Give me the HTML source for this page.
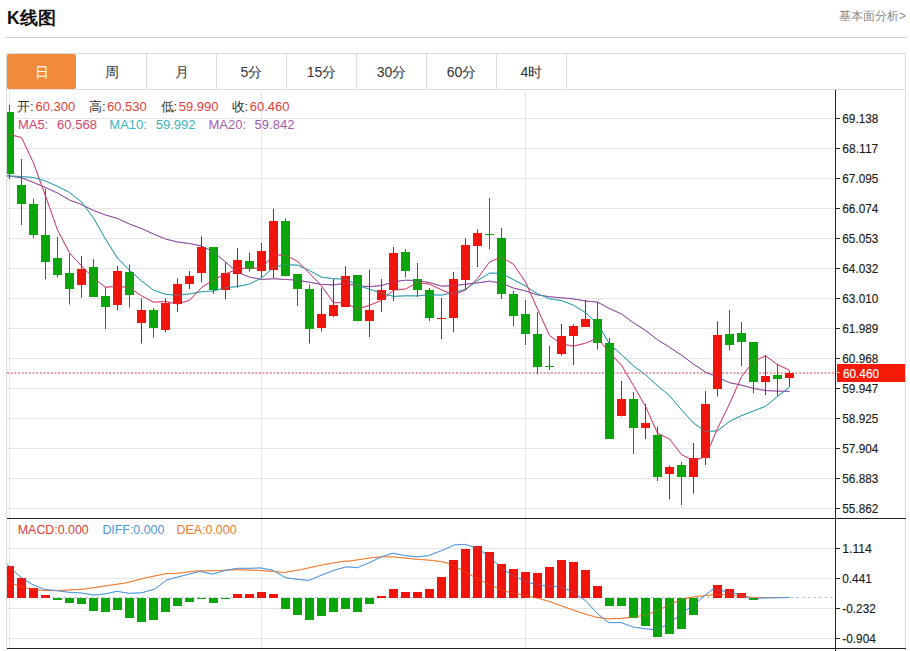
<!DOCTYPE html>
<html><head><meta charset="utf-8"><style>
*{margin:0;padding:0;box-sizing:border-box}
html,body{width:910px;height:651px;overflow:hidden;background:#fff;font-family:"Liberation Sans",sans-serif;color:#333}
.abs{position:absolute;white-space:nowrap}
#title{left:7px;top:5px;font-size:17.5px;font-weight:bold;color:#111;line-height:26px}
#fa{left:839px;top:8px;font-size:12px;color:#888;line-height:16px}
#hl{left:6px;top:37px;width:900px;height:1px;background:#ccc}
#box{left:6px;top:53px;width:900px;height:600px;border:1px solid #ddd;border-bottom:none}
#tabs{left:7px;top:54px;height:36px;width:898px;border-bottom:1px solid #ddd}
.tab{position:absolute;top:0;height:35px;width:70px;line-height:36px;text-align:center;font-size:14px;color:#333;border-right:1px solid #ddd}
.tab.on{background:#f28a3b;color:#fff;border-right:none;border-radius:2px;width:69px}
svg{position:absolute;left:0;top:0}
.ax{font-size:13px;fill:#1a1a1a;stroke:#1a1a1a;stroke-width:0.15px;font-family:"Liberation Sans",sans-serif}
.t{font-size:13px;position:absolute;white-space:nowrap;line-height:15px}
.k{color:#333} .v{color:#e0403a}
</style></head><body>
<div id="title" class="abs">K线图</div>
<div id="fa" class="abs">基本面分析&gt;</div>
<div id="hl" class="abs"></div>
<div id="box" class="abs"></div>
<div id="tabs" class="abs">
<div class="tab on" style="left:0">日</div>
<div class="tab" style="left:70px">周</div>
<div class="tab" style="left:140px">月</div>
<div class="tab" style="left:210px">5分</div>
<div class="tab" style="left:280px">15分</div>
<div class="tab" style="left:350px">30分</div>
<div class="tab" style="left:420px">60分</div>
<div class="tab" style="left:490px">4时</div>
</div>
<svg width="910" height="651" viewBox="0 0 910 651">
<defs><clipPath id="cp"><rect x="7" y="90" width="828" height="558"/></clipPath></defs>
<g clip-path="url(#cp)" shape-rendering="auto">
<line x1="7" y1="118.5" x2="835" y2="118.5" stroke="#e6e6e6"/>
<line x1="7" y1="148.5" x2="835" y2="148.5" stroke="#e6e6e6"/>
<line x1="7" y1="178.5" x2="835" y2="178.5" stroke="#e6e6e6"/>
<line x1="7" y1="208.5" x2="835" y2="208.5" stroke="#e6e6e6"/>
<line x1="7" y1="238.5" x2="835" y2="238.5" stroke="#e6e6e6"/>
<line x1="7" y1="268.5" x2="835" y2="268.5" stroke="#e6e6e6"/>
<line x1="7" y1="298.5" x2="835" y2="298.5" stroke="#e6e6e6"/>
<line x1="7" y1="328.5" x2="835" y2="328.5" stroke="#e6e6e6"/>
<line x1="7" y1="358.5" x2="835" y2="358.5" stroke="#e6e6e6"/>
<line x1="7" y1="388.5" x2="835" y2="388.5" stroke="#e6e6e6"/>
<line x1="7" y1="418.5" x2="835" y2="418.5" stroke="#e6e6e6"/>
<line x1="7" y1="448.5" x2="835" y2="448.5" stroke="#e6e6e6"/>
<line x1="7" y1="478.5" x2="835" y2="478.5" stroke="#e6e6e6"/>
<line x1="7" y1="508.5" x2="835" y2="508.5" stroke="#e6e6e6"/>
<line x1="7" y1="548.5" x2="835" y2="548.5" stroke="#e6e6e6"/>
<line x1="7" y1="578.5" x2="835" y2="578.5" stroke="#e6e6e6"/>
<line x1="7" y1="608.5" x2="835" y2="608.5" stroke="#e6e6e6"/>
<line x1="7" y1="638.5" x2="835" y2="638.5" stroke="#e6e6e6"/>
<line x1="9.5" y1="90" x2="9.5" y2="648" stroke="#e6e6e6"/>
<line x1="261.5" y1="90" x2="261.5" y2="648" stroke="#e6e6e6"/>
<line x1="525.5" y1="90" x2="525.5" y2="648" stroke="#e6e6e6"/>
<line x1="7" y1="373" x2="835" y2="373" stroke="#cc4050" stroke-dasharray="2,1.65"/>
<line x1="7" y1="597.5" x2="835" y2="597.5" stroke="#b4c8d6" stroke-dasharray="2.6,3"/>
<polyline points="-2.5,175.6 9.5,176 21.5,177.7 33.5,182.5 45.5,187.5 57.5,193 69.5,200 81.5,204.5 93.5,210.5 105.5,215 117.5,218.5 129.5,224 141.5,228.5 153.5,234 165.5,239 177.5,242 189.5,243.5 201.5,246 213.5,252 225.5,262 237.5,272.35 249.5,277.12 261.5,279.47 273.5,278.75 285.5,279.49 297.5,280.17 309.5,282.21 321.5,284.46 333.5,284.88 345.5,283.35 357.5,285.87 369.5,286.64 381.5,285.62 393.5,281.85 405.5,280.23 417.5,280.51 429.5,282.61 441.5,286.16 453.5,285.63 465.5,284.23 477.5,282.9 489.5,281.17 501.5,283.3 513.5,288.03 525.5,290.91 537.5,294.85 549.5,296.73 561.5,297.83 573.5,298.9 585.5,301.05 597.5,302.11 609.5,308.54 621.5,314.01 633.5,322.78 645.5,330.4 657.5,339.75 669.5,347.24 681.5,355.21 693.5,364.14 705.5,372.11 717.5,377.21 729.5,382.72 741.5,385.12 753.5,388.42 765.5,390.54 777.5,391.1 789.5,391.39" fill="none" stroke="#904c9e" stroke-width="1" stroke-linejoin="round"/>
<polyline points="-2.5,175.6 9.5,176 21.5,176.5 33.5,177.5 45.5,181 57.5,186.3 69.5,192.5 81.5,202 93.5,218 105.5,239 117.5,258.14 129.5,270.24 141.5,280.88 153.5,290.18 165.5,294.32 177.5,295.22 189.5,293.92 201.5,291.72 213.5,291.06 225.5,287.7 237.5,286.56 249.5,284 261.5,278.06 273.5,267.32 285.5,264.66 297.5,265.12 309.5,270.5 321.5,277.2 333.5,278.7 345.5,279 357.5,285.18 369.5,289.28 381.5,293.18 393.5,296.38 405.5,295.8 417.5,295.9 429.5,294.72 441.5,295.12 453.5,292.56 465.5,289.46 477.5,280.62 489.5,273.06 501.5,273.42 513.5,279.68 525.5,286.02 537.5,293.8 549.5,298.74 561.5,300.54 573.5,305.24 585.5,312.64 597.5,323.6 609.5,344.02 621.5,354.6 633.5,365.88 645.5,374.78 657.5,385.7 669.5,395.74 681.5,409.88 693.5,423.04 705.5,431.58 717.5,430.82 729.5,421.42 741.5,415.64 753.5,410.96 765.5,406.3 777.5,396.5 789.5,387.05" fill="none" stroke="#2f9fb0" stroke-width="1" stroke-linejoin="round"/>
<polyline points="-2.5,134.3 9.5,134.5 21.5,137.5 33.5,163 45.5,196 57.5,229.92 69.5,252.92 81.5,265.92 93.5,278.16 105.5,287.16 117.5,286.36 129.5,287.56 141.5,295.84 153.5,302.2 165.5,301.48 177.5,304.08 189.5,300.28 201.5,287.6 213.5,279.92 225.5,273.92 237.5,269.04 249.5,267.72 261.5,268.52 273.5,254.72 285.5,255.4 297.5,261.2 309.5,273.28 321.5,285.88 333.5,302.68 345.5,302.6 357.5,309.16 369.5,305.28 381.5,300.48 393.5,290.08 405.5,289 417.5,282.64 429.5,284.16 441.5,289.76 453.5,295.04 465.5,289.92 477.5,278.6 489.5,261.96 501.5,257.08 513.5,264.32 525.5,282.12 537.5,309 549.5,335.52 561.5,344 573.5,346.16 585.5,343.16 597.5,338.2 609.5,352.52 621.5,365.2 633.5,385.6 645.5,406.4 657.5,433.2 669.5,438.96 681.5,454.56 693.5,460.48 705.5,456.76 717.5,428.44 729.5,403.88 741.5,376.72 753.5,361.44 765.5,355.84 777.5,364.56 789.5,370.22" fill="none" stroke="#d4446f" stroke-width="1" stroke-linejoin="round"/>
<line x1="9.5" y1="105" x2="9.5" y2="179" stroke="#0a8a0a"/>
<rect x="5.0" y="112" width="9" height="62" fill="#0aa50a"/>
<line x1="21.5" y1="159" x2="21.5" y2="225" stroke="#0a8a0a"/>
<rect x="17.0" y="185" width="9" height="19" fill="#0aa50a"/>
<line x1="33.5" y1="198.6" x2="33.5" y2="238" stroke="#0a8a0a"/>
<rect x="29.0" y="204" width="9" height="31" fill="#0aa50a"/>
<line x1="45.5" y1="188.6" x2="45.5" y2="279.4" stroke="#0a8a0a"/>
<rect x="41.0" y="235" width="9" height="27" fill="#0aa50a"/>
<line x1="57.5" y1="236.6" x2="57.5" y2="277.6" stroke="#0a8a0a"/>
<rect x="53.0" y="258" width="9" height="17" fill="#0aa50a"/>
<line x1="69.5" y1="253.6" x2="69.5" y2="304.6" stroke="#0a8a0a"/>
<rect x="65.0" y="273" width="9" height="16" fill="#0aa50a"/>
<line x1="81.5" y1="256" x2="81.5" y2="297.6" stroke="#c81010"/>
<rect x="77.0" y="269" width="9" height="16" fill="#f0140c"/>
<line x1="93.5" y1="259" x2="93.5" y2="297" stroke="#0a8a0a"/>
<rect x="89.0" y="267" width="9" height="30" fill="#0aa50a"/>
<line x1="105.5" y1="287" x2="105.5" y2="329" stroke="#0a8a0a"/>
<rect x="101.0" y="296" width="9" height="11" fill="#0aa50a"/>
<line x1="117.5" y1="266" x2="117.5" y2="310.4" stroke="#c81010"/>
<rect x="113.0" y="271" width="9" height="34" fill="#f0140c"/>
<line x1="129.5" y1="264.4" x2="129.5" y2="307.6" stroke="#0a8a0a"/>
<rect x="125.0" y="272" width="9" height="23" fill="#0aa50a"/>
<line x1="141.5" y1="298.4" x2="141.5" y2="343.6" stroke="#c81010"/>
<rect x="137.0" y="310" width="9" height="13" fill="#f0140c"/>
<line x1="153.5" y1="308" x2="153.5" y2="337.6" stroke="#0a8a0a"/>
<rect x="149.0" y="310" width="9" height="18" fill="#0aa50a"/>
<line x1="165.5" y1="298.4" x2="165.5" y2="332.4" stroke="#c81010"/>
<rect x="161.0" y="303" width="9" height="27" fill="#f0140c"/>
<line x1="177.5" y1="278.4" x2="177.5" y2="312" stroke="#c81010"/>
<rect x="173.0" y="284" width="9" height="20" fill="#f0140c"/>
<line x1="189.5" y1="271" x2="189.5" y2="289" stroke="#c81010"/>
<rect x="185.0" y="276" width="9" height="8" fill="#f0140c"/>
<line x1="201.5" y1="236.4" x2="201.5" y2="282.4" stroke="#c81010"/>
<rect x="197.0" y="247" width="9" height="26" fill="#f0140c"/>
<line x1="213.5" y1="247" x2="213.5" y2="294" stroke="#0a8a0a"/>
<rect x="209.0" y="247" width="9" height="43" fill="#0aa50a"/>
<line x1="225.5" y1="262.4" x2="225.5" y2="299.4" stroke="#c81010"/>
<rect x="221.0" y="273" width="9" height="17" fill="#f0140c"/>
<line x1="237.5" y1="248" x2="237.5" y2="287.6" stroke="#c81010"/>
<rect x="233.0" y="260" width="9" height="14" fill="#f0140c"/>
<line x1="249.5" y1="252.6" x2="249.5" y2="271.6" stroke="#0a8a0a"/>
<rect x="245.0" y="261" width="9" height="8" fill="#0aa50a"/>
<line x1="261.5" y1="243" x2="261.5" y2="277.6" stroke="#c81010"/>
<rect x="257.0" y="251" width="9" height="20" fill="#f0140c"/>
<line x1="273.5" y1="209" x2="273.5" y2="278" stroke="#c81010"/>
<rect x="269.0" y="221" width="9" height="49" fill="#f0140c"/>
<line x1="285.5" y1="218.4" x2="285.5" y2="276.4" stroke="#0a8a0a"/>
<rect x="281.0" y="221" width="9" height="55" fill="#0aa50a"/>
<line x1="297.5" y1="274.4" x2="297.5" y2="306" stroke="#0a8a0a"/>
<rect x="293.0" y="274" width="9" height="15" fill="#0aa50a"/>
<line x1="309.5" y1="284.4" x2="309.5" y2="343.6" stroke="#0a8a0a"/>
<rect x="305.0" y="289" width="9" height="40" fill="#0aa50a"/>
<line x1="321.5" y1="288" x2="321.5" y2="331.6" stroke="#c81010"/>
<rect x="317.0" y="314" width="9" height="14" fill="#f0140c"/>
<line x1="333.5" y1="279" x2="333.5" y2="317" stroke="#c81010"/>
<rect x="329.0" y="305" width="9" height="11" fill="#f0140c"/>
<line x1="345.5" y1="266.4" x2="345.5" y2="306.6" stroke="#c81010"/>
<rect x="341.0" y="276" width="9" height="31" fill="#f0140c"/>
<line x1="357.5" y1="275" x2="357.5" y2="321.4" stroke="#0a8a0a"/>
<rect x="353.0" y="275" width="9" height="46" fill="#0aa50a"/>
<line x1="369.5" y1="269.6" x2="369.5" y2="337" stroke="#c81010"/>
<rect x="365.0" y="310" width="9" height="11" fill="#f0140c"/>
<line x1="381.5" y1="279" x2="381.5" y2="312" stroke="#c81010"/>
<rect x="377.0" y="290" width="9" height="10" fill="#f0140c"/>
<line x1="393.5" y1="247" x2="393.5" y2="301" stroke="#c81010"/>
<rect x="389.0" y="253" width="9" height="37" fill="#f0140c"/>
<line x1="405.5" y1="249" x2="405.5" y2="277.6" stroke="#0a8a0a"/>
<rect x="401.0" y="252" width="9" height="19" fill="#0aa50a"/>
<line x1="417.5" y1="263" x2="417.5" y2="297" stroke="#0a8a0a"/>
<rect x="413.0" y="279" width="9" height="11" fill="#0aa50a"/>
<line x1="429.5" y1="288" x2="429.5" y2="321" stroke="#0a8a0a"/>
<rect x="425.0" y="290" width="9" height="28" fill="#0aa50a"/>
<line x1="441.5" y1="298" x2="441.5" y2="339" stroke="#c81010"/>
<rect x="437.0" y="318" width="9" height="1" fill="#f0140c"/>
<line x1="453.5" y1="272" x2="453.5" y2="332" stroke="#c81010"/>
<rect x="449.0" y="279" width="9" height="39" fill="#f0140c"/>
<line x1="465.5" y1="238.4" x2="465.5" y2="290" stroke="#c81010"/>
<rect x="461.0" y="245" width="9" height="35" fill="#f0140c"/>
<line x1="477.5" y1="229.4" x2="477.5" y2="267" stroke="#c81010"/>
<rect x="473.0" y="233" width="9" height="13" fill="#f0140c"/>
<line x1="489.5" y1="198" x2="489.5" y2="249.4" stroke="#0a8a0a"/>
<rect x="485.0" y="234" width="9" height="1" fill="#0aa50a"/>
<line x1="501.5" y1="228" x2="501.5" y2="299" stroke="#0a8a0a"/>
<rect x="497.0" y="238" width="9" height="56" fill="#0aa50a"/>
<line x1="513.5" y1="291" x2="513.5" y2="326.4" stroke="#0a8a0a"/>
<rect x="509.0" y="294" width="9" height="22" fill="#0aa50a"/>
<line x1="525.5" y1="300" x2="525.5" y2="345" stroke="#0a8a0a"/>
<rect x="521.0" y="314" width="9" height="20" fill="#0aa50a"/>
<line x1="537.5" y1="312" x2="537.5" y2="374.4" stroke="#0a8a0a"/>
<rect x="533.0" y="334" width="9" height="33" fill="#0aa50a"/>
<line x1="549.5" y1="345.6" x2="549.5" y2="370" stroke="#0a8a0a"/>
<rect x="545.0" y="366" width="9" height="1" fill="#0aa50a"/>
<line x1="561.5" y1="324" x2="561.5" y2="355.6" stroke="#c81010"/>
<rect x="557.0" y="336" width="9" height="18" fill="#f0140c"/>
<line x1="573.5" y1="324.4" x2="573.5" y2="365" stroke="#c81010"/>
<rect x="569.0" y="326" width="9" height="10" fill="#f0140c"/>
<line x1="585.5" y1="300" x2="585.5" y2="327" stroke="#c81010"/>
<rect x="581.0" y="319" width="9" height="8" fill="#f0140c"/>
<line x1="597.5" y1="302" x2="597.5" y2="349.6" stroke="#0a8a0a"/>
<rect x="593.0" y="319" width="9" height="24" fill="#0aa50a"/>
<line x1="609.5" y1="338" x2="609.5" y2="438.6" stroke="#0a8a0a"/>
<rect x="605.0" y="343" width="9" height="96" fill="#0aa50a"/>
<line x1="621.5" y1="381" x2="621.5" y2="416.4" stroke="#c81010"/>
<rect x="617.0" y="399" width="9" height="17" fill="#f0140c"/>
<line x1="633.5" y1="392" x2="633.5" y2="454" stroke="#0a8a0a"/>
<rect x="629.0" y="399" width="9" height="29" fill="#0aa50a"/>
<line x1="645.5" y1="404" x2="645.5" y2="439" stroke="#c81010"/>
<rect x="641.0" y="423" width="9" height="5" fill="#f0140c"/>
<line x1="657.5" y1="426.4" x2="657.5" y2="481" stroke="#0a8a0a"/>
<rect x="653.0" y="435" width="9" height="42" fill="#0aa50a"/>
<line x1="669.5" y1="465.6" x2="669.5" y2="499.4" stroke="#c81010"/>
<rect x="665.0" y="467" width="9" height="7" fill="#f0140c"/>
<line x1="681.5" y1="462" x2="681.5" y2="505" stroke="#0a8a0a"/>
<rect x="677.0" y="465" width="9" height="12" fill="#0aa50a"/>
<line x1="693.5" y1="443" x2="693.5" y2="493.6" stroke="#c81010"/>
<rect x="689.0" y="458" width="9" height="19" fill="#f0140c"/>
<line x1="705.5" y1="391" x2="705.5" y2="465" stroke="#c81010"/>
<rect x="701.0" y="404" width="9" height="54" fill="#f0140c"/>
<line x1="717.5" y1="321.4" x2="717.5" y2="396.4" stroke="#c81010"/>
<rect x="713.0" y="335" width="9" height="54" fill="#f0140c"/>
<line x1="729.5" y1="310" x2="729.5" y2="350.4" stroke="#0a8a0a"/>
<rect x="725.0" y="334" width="9" height="11" fill="#0aa50a"/>
<line x1="741.5" y1="322" x2="741.5" y2="366.4" stroke="#0a8a0a"/>
<rect x="737.0" y="333" width="9" height="9" fill="#0aa50a"/>
<line x1="753.5" y1="342.4" x2="753.5" y2="393.4" stroke="#0a8a0a"/>
<rect x="749.0" y="342" width="9" height="40" fill="#0aa50a"/>
<line x1="765.5" y1="355" x2="765.5" y2="395" stroke="#c81010"/>
<rect x="761.0" y="376" width="9" height="6" fill="#f0140c"/>
<line x1="777.5" y1="364" x2="777.5" y2="396" stroke="#0a8a0a"/>
<rect x="773.0" y="375" width="9" height="4" fill="#0aa50a"/>
<line x1="789.5" y1="370.9" x2="789.5" y2="386.7" stroke="#c81010"/>
<rect x="785.0" y="373" width="9" height="5" fill="#f0140c"/>
<g opacity="0.45"><polyline points="-2.5,175.6 9.5,176 21.5,177.7 33.5,182.5 45.5,187.5 57.5,193 69.5,200 81.5,204.5 93.5,210.5 105.5,215 117.5,218.5 129.5,224 141.5,228.5 153.5,234 165.5,239 177.5,242 189.5,243.5 201.5,246 213.5,252 225.5,262 237.5,272.35 249.5,277.12 261.5,279.47 273.5,278.75 285.5,279.49 297.5,280.17 309.5,282.21 321.5,284.46 333.5,284.88 345.5,283.35 357.5,285.87 369.5,286.64 381.5,285.62 393.5,281.85 405.5,280.23 417.5,280.51 429.5,282.61 441.5,286.16 453.5,285.63 465.5,284.23 477.5,282.9 489.5,281.17 501.5,283.3 513.5,288.03 525.5,290.91 537.5,294.85 549.5,296.73 561.5,297.83 573.5,298.9 585.5,301.05 597.5,302.11 609.5,308.54 621.5,314.01 633.5,322.78 645.5,330.4 657.5,339.75 669.5,347.24 681.5,355.21 693.5,364.14 705.5,372.11 717.5,377.21 729.5,382.72 741.5,385.12 753.5,388.42 765.5,390.54 777.5,391.1 789.5,391.39" fill="none" stroke="#904c9e" stroke-width="1" stroke-linejoin="round"/><polyline points="-2.5,175.6 9.5,176 21.5,176.5 33.5,177.5 45.5,181 57.5,186.3 69.5,192.5 81.5,202 93.5,218 105.5,239 117.5,258.14 129.5,270.24 141.5,280.88 153.5,290.18 165.5,294.32 177.5,295.22 189.5,293.92 201.5,291.72 213.5,291.06 225.5,287.7 237.5,286.56 249.5,284 261.5,278.06 273.5,267.32 285.5,264.66 297.5,265.12 309.5,270.5 321.5,277.2 333.5,278.7 345.5,279 357.5,285.18 369.5,289.28 381.5,293.18 393.5,296.38 405.5,295.8 417.5,295.9 429.5,294.72 441.5,295.12 453.5,292.56 465.5,289.46 477.5,280.62 489.5,273.06 501.5,273.42 513.5,279.68 525.5,286.02 537.5,293.8 549.5,298.74 561.5,300.54 573.5,305.24 585.5,312.64 597.5,323.6 609.5,344.02 621.5,354.6 633.5,365.88 645.5,374.78 657.5,385.7 669.5,395.74 681.5,409.88 693.5,423.04 705.5,431.58 717.5,430.82 729.5,421.42 741.5,415.64 753.5,410.96 765.5,406.3 777.5,396.5 789.5,387.05" fill="none" stroke="#2f9fb0" stroke-width="1" stroke-linejoin="round"/><polyline points="-2.5,134.3 9.5,134.5 21.5,137.5 33.5,163 45.5,196 57.5,229.92 69.5,252.92 81.5,265.92 93.5,278.16 105.5,287.16 117.5,286.36 129.5,287.56 141.5,295.84 153.5,302.2 165.5,301.48 177.5,304.08 189.5,300.28 201.5,287.6 213.5,279.92 225.5,273.92 237.5,269.04 249.5,267.72 261.5,268.52 273.5,254.72 285.5,255.4 297.5,261.2 309.5,273.28 321.5,285.88 333.5,302.68 345.5,302.6 357.5,309.16 369.5,305.28 381.5,300.48 393.5,290.08 405.5,289 417.5,282.64 429.5,284.16 441.5,289.76 453.5,295.04 465.5,289.92 477.5,278.6 489.5,261.96 501.5,257.08 513.5,264.32 525.5,282.12 537.5,309 549.5,335.52 561.5,344 573.5,346.16 585.5,343.16 597.5,338.2 609.5,352.52 621.5,365.2 633.5,385.6 645.5,406.4 657.5,433.2 669.5,438.96 681.5,454.56 693.5,460.48 705.5,456.76 717.5,428.44 729.5,403.88 741.5,376.72 753.5,361.44 765.5,355.84 777.5,364.56 789.5,370.22" fill="none" stroke="#d4446f" stroke-width="1" stroke-linejoin="round"/></g>
<polyline points="7,581.4 18.8,586 31.3,589.2 43.9,590.6 56.4,590.6 83.6,589.2 104.5,586 125.4,583 146.3,577.7 167,573.5 175,573.5 195.9,571 216.8,570.6 237.7,569.7 258.6,570.4 273.2,571.4 283.7,572.5 300.4,569.7 321.3,565.1 342.2,561.4 350,561 370.9,557.8 381.3,556.8 392.8,556.8 412.7,558.9 433.6,560.5 446.1,562.6 458.7,568.3 475.4,577.7 492.1,586 508.8,592.3 525.5,595.4 537.5,598.2 550,601.7 573,610.1 585.6,614.2 597,617.4 608.6,618.8 621.1,618.4 633.7,617 646.2,614.9 658.7,610.1 671.3,603.8 683.8,598.6 696.3,596.5 702.5,596 715,594.4 727.6,594.8 740,596 752.7,597.5 789.5,597.5" fill="none" stroke="#f0782a" stroke-width="1" stroke-linejoin="round"/><polyline points="7,564 18.8,575.6 31.3,584 43.9,589.2 56.4,590.6 69,592.3 81.5,593 94,595 104.5,594 117,591.3 129.5,593.4 142,592.7 154.6,589.2 167,579.8 175,577.7 187.5,574.5 200,571.4 212.6,574.1 225,570.4 237.7,568.3 250.2,568.3 260.7,567.9 273.2,570.4 285.7,577.7 298.3,579.4 308.7,580.4 321.3,575.2 333.8,570.4 346.3,566.8 357.3,567.7 370.9,562 381.3,556.8 392.8,553.2 405.4,555.7 416.9,556.8 428.4,555.7 441.9,550.5 454.5,544.9 464.9,544.3 477.5,548.4 490,556.8 500.4,567.2 513,575.6 525.5,581.4 537.5,585 550,586 561.6,587.1 573,592.3 585.6,600.7 597,613.2 608.6,622.6 621.1,622.6 633.7,627.2 646.2,628.9 656.6,629.9 669.2,623.7 681.7,613.2 694.2,604.8 704.7,595.4 713,589.2 725.5,591.3 738,594 750.6,598.6 763,598 789.5,597.5" fill="none" stroke="#4f96e0" stroke-width="1" stroke-linejoin="round"/>
<rect x="5.0" y="566" width="9" height="32" fill="#f0140c"/>
<rect x="17.0" y="578" width="9" height="20" fill="#f0140c"/>
<rect x="29.0" y="588" width="9" height="10" fill="#f0140c"/>
<rect x="41.0" y="595" width="9" height="3" fill="#f0140c"/>
<rect x="53.0" y="598" width="9" height="2" fill="#0aa50a"/>
<rect x="65.0" y="598" width="9" height="5" fill="#0aa50a"/>
<rect x="77.0" y="598" width="9" height="6" fill="#0aa50a"/>
<rect x="89.0" y="598" width="9" height="13" fill="#0aa50a"/>
<rect x="101.0" y="598" width="9" height="14" fill="#0aa50a"/>
<rect x="113.0" y="598" width="9" height="12" fill="#0aa50a"/>
<rect x="125.0" y="598" width="9" height="20" fill="#0aa50a"/>
<rect x="137.0" y="598" width="9" height="24" fill="#0aa50a"/>
<rect x="149.0" y="598" width="9" height="22" fill="#0aa50a"/>
<rect x="161.0" y="598" width="9" height="14" fill="#0aa50a"/>
<rect x="173.0" y="598" width="9" height="8" fill="#0aa50a"/>
<rect x="185.0" y="598" width="9" height="4" fill="#0aa50a"/>
<rect x="197.0" y="598" width="9" height="1" fill="#0aa50a"/>
<rect x="209.0" y="598" width="9" height="5" fill="#0aa50a"/>
<rect x="221.0" y="598" width="9" height="1" fill="#0aa50a"/>
<rect x="233.0" y="594" width="9" height="4" fill="#f0140c"/>
<rect x="245.0" y="594" width="9" height="4" fill="#f0140c"/>
<rect x="257.0" y="592" width="9" height="6" fill="#f0140c"/>
<rect x="269.0" y="594" width="9" height="4" fill="#f0140c"/>
<rect x="281.0" y="598" width="9" height="11" fill="#0aa50a"/>
<rect x="293.0" y="598" width="9" height="17" fill="#0aa50a"/>
<rect x="305.0" y="598" width="9" height="22" fill="#0aa50a"/>
<rect x="317.0" y="598" width="9" height="18" fill="#0aa50a"/>
<rect x="329.0" y="598" width="9" height="14" fill="#0aa50a"/>
<rect x="341.0" y="598" width="9" height="11" fill="#0aa50a"/>
<rect x="353.0" y="598" width="9" height="14" fill="#0aa50a"/>
<rect x="365.0" y="598" width="9" height="6" fill="#0aa50a"/>
<rect x="377.0" y="596" width="9" height="2" fill="#f0140c"/>
<rect x="389.0" y="589" width="9" height="9" fill="#f0140c"/>
<rect x="401.0" y="592" width="9" height="6" fill="#f0140c"/>
<rect x="413.0" y="592" width="9" height="6" fill="#f0140c"/>
<rect x="425.0" y="589" width="9" height="9" fill="#f0140c"/>
<rect x="437.0" y="577" width="9" height="21" fill="#f0140c"/>
<rect x="449.0" y="560" width="9" height="38" fill="#f0140c"/>
<rect x="461.0" y="549" width="9" height="49" fill="#f0140c"/>
<rect x="473.0" y="546" width="9" height="52" fill="#f0140c"/>
<rect x="485.0" y="552" width="9" height="46" fill="#f0140c"/>
<rect x="497.0" y="564" width="9" height="34" fill="#f0140c"/>
<rect x="509.0" y="569" width="9" height="29" fill="#f0140c"/>
<rect x="521.0" y="572" width="9" height="26" fill="#f0140c"/>
<rect x="533.0" y="573" width="9" height="25" fill="#f0140c"/>
<rect x="545.0" y="567" width="9" height="31" fill="#f0140c"/>
<rect x="557.0" y="560" width="9" height="38" fill="#f0140c"/>
<rect x="569.0" y="562" width="9" height="36" fill="#f0140c"/>
<rect x="581.0" y="570" width="9" height="28" fill="#f0140c"/>
<rect x="593.0" y="586" width="9" height="12" fill="#f0140c"/>
<rect x="605.0" y="598" width="9" height="8" fill="#0aa50a"/>
<rect x="617.0" y="598" width="9" height="8" fill="#0aa50a"/>
<rect x="629.0" y="598" width="9" height="20" fill="#0aa50a"/>
<rect x="641.0" y="598" width="9" height="28" fill="#0aa50a"/>
<rect x="653.0" y="598" width="9" height="39" fill="#0aa50a"/>
<rect x="665.0" y="598" width="9" height="36" fill="#0aa50a"/>
<rect x="677.0" y="598" width="9" height="31" fill="#0aa50a"/>
<rect x="689.0" y="598" width="9" height="17" fill="#0aa50a"/>
<rect x="713.0" y="585" width="9" height="13" fill="#f0140c"/>
<rect x="725.0" y="589" width="9" height="9" fill="#f0140c"/>
<rect x="737.0" y="593" width="9" height="5" fill="#f0140c"/>
<rect x="749.0" y="598" width="9" height="2" fill="#0aa50a"/>
<g opacity="0.35"><polyline points="7,581.4 18.8,586 31.3,589.2 43.9,590.6 56.4,590.6 83.6,589.2 104.5,586 125.4,583 146.3,577.7 167,573.5 175,573.5 195.9,571 216.8,570.6 237.7,569.7 258.6,570.4 273.2,571.4 283.7,572.5 300.4,569.7 321.3,565.1 342.2,561.4 350,561 370.9,557.8 381.3,556.8 392.8,556.8 412.7,558.9 433.6,560.5 446.1,562.6 458.7,568.3 475.4,577.7 492.1,586 508.8,592.3 525.5,595.4 537.5,598.2 550,601.7 573,610.1 585.6,614.2 597,617.4 608.6,618.8 621.1,618.4 633.7,617 646.2,614.9 658.7,610.1 671.3,603.8 683.8,598.6 696.3,596.5 702.5,596 715,594.4 727.6,594.8 740,596 752.7,597.5 789.5,597.5" fill="none" stroke="#f0782a" stroke-width="1" stroke-linejoin="round"/><polyline points="7,564 18.8,575.6 31.3,584 43.9,589.2 56.4,590.6 69,592.3 81.5,593 94,595 104.5,594 117,591.3 129.5,593.4 142,592.7 154.6,589.2 167,579.8 175,577.7 187.5,574.5 200,571.4 212.6,574.1 225,570.4 237.7,568.3 250.2,568.3 260.7,567.9 273.2,570.4 285.7,577.7 298.3,579.4 308.7,580.4 321.3,575.2 333.8,570.4 346.3,566.8 357.3,567.7 370.9,562 381.3,556.8 392.8,553.2 405.4,555.7 416.9,556.8 428.4,555.7 441.9,550.5 454.5,544.9 464.9,544.3 477.5,548.4 490,556.8 500.4,567.2 513,575.6 525.5,581.4 537.5,585 550,586 561.6,587.1 573,592.3 585.6,600.7 597,613.2 608.6,622.6 621.1,622.6 633.7,627.2 646.2,628.9 656.6,629.9 669.2,623.7 681.7,613.2 694.2,604.8 704.7,595.4 713,589.2 725.5,591.3 738,594 750.6,598.6 763,598 789.5,597.5" fill="none" stroke="#4f96e0" stroke-width="1" stroke-linejoin="round"/></g>
</g>
<line x1="835.5" y1="90" x2="835.5" y2="651" stroke="#222"/>
<line x1="7" y1="518.5" x2="906" y2="518.5" stroke="#222"/>
<line x1="7" y1="648.5" x2="906" y2="648.5" stroke="#222"/>
<line x1="836" y1="118.5" x2="840" y2="118.5" stroke="#222"/>
<text x="842.3" y="122.8" class="ax" textLength="36.0" lengthAdjust="spacingAndGlyphs">69.138</text>
<line x1="836" y1="148.5" x2="840" y2="148.5" stroke="#222"/>
<text x="842.3" y="152.8" class="ax" textLength="36.0" lengthAdjust="spacingAndGlyphs">68.117</text>
<line x1="836" y1="178.5" x2="840" y2="178.5" stroke="#222"/>
<text x="842.3" y="182.8" class="ax" textLength="36.0" lengthAdjust="spacingAndGlyphs">67.095</text>
<line x1="836" y1="208.5" x2="840" y2="208.5" stroke="#222"/>
<text x="842.3" y="212.8" class="ax" textLength="36.0" lengthAdjust="spacingAndGlyphs">66.074</text>
<line x1="836" y1="238.5" x2="840" y2="238.5" stroke="#222"/>
<text x="842.3" y="242.8" class="ax" textLength="36.0" lengthAdjust="spacingAndGlyphs">65.053</text>
<line x1="836" y1="268.5" x2="840" y2="268.5" stroke="#222"/>
<text x="842.3" y="272.8" class="ax" textLength="36.0" lengthAdjust="spacingAndGlyphs">64.032</text>
<line x1="836" y1="298.5" x2="840" y2="298.5" stroke="#222"/>
<text x="842.3" y="302.8" class="ax" textLength="36.0" lengthAdjust="spacingAndGlyphs">63.010</text>
<line x1="836" y1="328.5" x2="840" y2="328.5" stroke="#222"/>
<text x="842.3" y="332.8" class="ax" textLength="36.0" lengthAdjust="spacingAndGlyphs">61.989</text>
<line x1="836" y1="358.5" x2="840" y2="358.5" stroke="#222"/>
<text x="842.3" y="362.8" class="ax" textLength="36.0" lengthAdjust="spacingAndGlyphs">60.968</text>
<line x1="836" y1="388.5" x2="840" y2="388.5" stroke="#222"/>
<text x="842.3" y="392.8" class="ax" textLength="36.0" lengthAdjust="spacingAndGlyphs">59.947</text>
<line x1="836" y1="418.5" x2="840" y2="418.5" stroke="#222"/>
<text x="842.3" y="422.8" class="ax" textLength="36.0" lengthAdjust="spacingAndGlyphs">58.925</text>
<line x1="836" y1="448.5" x2="840" y2="448.5" stroke="#222"/>
<text x="842.3" y="452.8" class="ax" textLength="36.0" lengthAdjust="spacingAndGlyphs">57.904</text>
<line x1="836" y1="478.5" x2="840" y2="478.5" stroke="#222"/>
<text x="842.3" y="482.8" class="ax" textLength="36.0" lengthAdjust="spacingAndGlyphs">56.883</text>
<line x1="836" y1="508.5" x2="840" y2="508.5" stroke="#222"/>
<text x="842.3" y="512.8" class="ax" textLength="36.0" lengthAdjust="spacingAndGlyphs">55.862</text>
<line x1="836" y1="548.5" x2="840" y2="548.5" stroke="#222"/>
<text x="842.3" y="552.8" class="ax" textLength="29.5" lengthAdjust="spacingAndGlyphs">1.114</text>
<line x1="836" y1="578.5" x2="840" y2="578.5" stroke="#222"/>
<text x="842.3" y="582.8" class="ax" textLength="29.5" lengthAdjust="spacingAndGlyphs">0.441</text>
<line x1="836" y1="608.5" x2="840" y2="608.5" stroke="#222"/>
<text x="842.3" y="612.8" class="ax" textLength="33.5" lengthAdjust="spacingAndGlyphs">-0.232</text>
<line x1="836" y1="638.5" x2="840" y2="638.5" stroke="#222"/>
<text x="842.3" y="642.8" class="ax" textLength="33.5" lengthAdjust="spacingAndGlyphs">-0.904</text>
<rect x="837" y="364" width="68" height="18" fill="#f51a05"/>
<line x1="836" y1="372.5" x2="840" y2="372.5" stroke="#fbb"/>
<text x="843" y="377.5" class="ax" style="fill:#fff;stroke:#fff" textLength="36.0" lengthAdjust="spacingAndGlyphs">60.460</text>
</svg>
<div class="t" style="left:17px;top:99px"><span class="k">开:</span></div>
<div class="t v" style="left:35.5px;top:99px">60.300</div>
<div class="t" style="left:89px;top:99px"><span class="k">高:</span></div>
<div class="t v" style="left:107px;top:99px">60.530</div>
<div class="t" style="left:160.5px;top:99px"><span class="k">低:</span></div>
<div class="t v" style="left:178.8px;top:99px">59.990</div>
<div class="t" style="left:231.5px;top:99px"><span class="k">收:</span></div>
<div class="t v" style="left:249.7px;top:99px">60.460</div>
<div class="t" style="left:17.9px;top:117px;color:#d4446f">MA5:</div>
<div class="t" style="left:57.1px;top:117px;color:#d4446f">60.568</div>
<div class="t" style="left:109.3px;top:117px;color:#3ab4c4">MA10:</div>
<div class="t" style="left:155.7px;top:117px;color:#3ab4c4">59.992</div>
<div class="t" style="left:208.5px;top:117px;color:#a060b4">MA20:</div>
<div class="t" style="left:254.6px;top:117px;color:#a060b4">59.842</div>
<div class="t" style="left:17.8px;top:523px;font-size:12.4px;color:#e0403a">MACD:0.000</div>
<div class="t" style="left:102.4px;top:523px;font-size:12.4px;color:#4f96e0">DIFF:0.000</div>
<div class="t" style="left:176.6px;top:523px;font-size:12.4px;color:#f0782a">DEA:0.000</div>
</body></html>
